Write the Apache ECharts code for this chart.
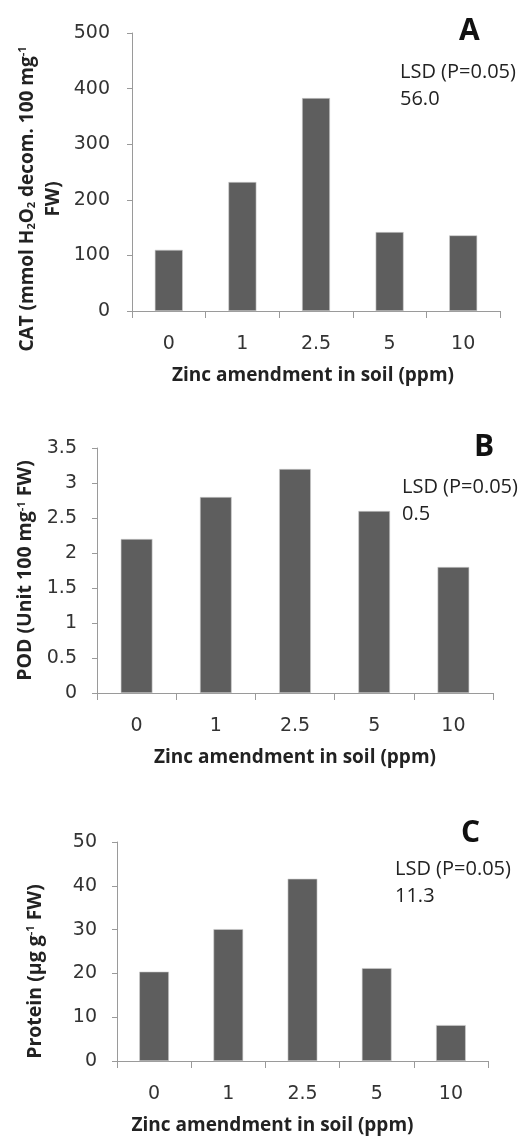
<!DOCTYPE html>
<html>
<head>
<meta charset="utf-8">
<script src="https://cdn.jsdelivr.net/npm/echarts@6/dist/echarts.min.js"></script>
<style>
html,body{margin:0;padding:0;background:#fff;}
#chart{width:530px;height:1137px;}
</style>
</head>
<body>
<div id="chart"></div>
<script>
const categories = ['0', '1', '2.5', '5', '10'];
const catValues = [110, 232, 383, 142, 136];
const podValues = [2.2, 2.8, 3.2, 2.6, 1.8];
const proteinValues = [20.4, 30.1, 41.6, 21.2, 8.2];
const panelLetters = ['A', 'B', 'C'];
const lsdLabel = 'LSD (P=0.05)';
const lsdValues = ['56.0', '0.5', '11.3'];
const xTitle = 'Zinc amendment in soil (ppm)';

const FONT = '"Open Sans", sans-serif';
const TICKFONT = '"DejaVu Sans", sans-serif';
const axisColor = '#9a9a9a';
const barColor = '#5e5e5e';
const textColor = '#222';

function nameRich(size) {
  return {
    b: {fontFamily: FONT, fontWeight: 'bold', fontSize: size, color: textColor, lineHeight: 26},
    sub: {fontFamily: FONT, fontWeight: 'bold', fontSize: 11, color: textColor, verticalAlign: 'bottom', padding: [0, 0, 3, 0]},
    sup: {fontFamily: FONT, fontWeight: 'bold', fontSize: 11, color: textColor, verticalAlign: 'top', padding: [3, 0, 0, 0]}
  };
}

function xAxis(gi, pad) {
  return {
    type: 'category', gridIndex: gi, data: categories,
    axisLine: {lineStyle: {color: axisColor, width: 1}},
    axisTick: {show: true, length: 7, lineStyle: {color: axisColor}},
    axisLabel: {margin: 24, fontFamily: TICKFONT, fontSize: 19, color: '#333'},
    name: xTitle, nameLocation: 'middle', nameGap: 55,
    nameTextStyle: {fontFamily: FONT, fontWeight: 'bold', fontSize: 19, color: textColor, padding: pad}
  };
}
function yAxis(gi, max, interval, name, gap, margin, pad, size) {
  return {
    type: 'value', gridIndex: gi, min: 0, max: max, interval: interval,
    splitLine: {show: false},
    axisLine: {show: true, lineStyle: {color: axisColor, width: 1}},
    axisTick: {show: true, length: 5, lineStyle: {color: axisColor}},
    axisLabel: {margin: margin, fontFamily: TICKFONT, fontSize: 19, color: '#333'},
    name: name, nameLocation: 'middle', nameGap: gap, nameRotate: 90,
    nameTextStyle: {rich: nameRich(size), align: 'center', padding: pad}
  };
}
function bars(gi, data, w) {
  return {
    type: 'bar', xAxisIndex: gi, yAxisIndex: gi, data: data, barWidth: w,
    itemStyle: {color: barColor, borderColor: '#cfcfcf', borderWidth: 0.6},
    silent: true
  };
}

const chart = echarts.init(document.getElementById('chart'), null, {renderer: 'canvas'});
chart.setOption({
  animation: false,
  backgroundColor: '#fff',
  grid: [
    {left: 132, top: 33, width: 368, height: 278},
    {left: 97, top: 448, width: 396, height: 245},
    {left: 117, top: 842, width: 371, height: 219}
  ],
  xAxis: [xAxis(0, [0, 6, 0, 0]), xAxis(1, [0, 0, 0, 0]), xAxis(2, [0, 60, 0, 0])],
  yAxis: [
    yAxis(0, 500, 100, '{b|CAT (mmol H}{sub|2}{b|O}{sub|2}{b| decom. 100 mg}{sup|-1}\n{b|FW)}', 65, 22, [0, 54, 0, 0], 19),
    yAxis(1, 3.5, 0.5, '{b|POD (Unit 100 mg}{sup|-1}{b| FW)}', 57, 20, [0, 0, 0, 0], 19.5),
    yAxis(2, 50, 10, '{b|Protein (µg g}{sup|-1}{b| FW)}', 69, 20, [0, 40, 0, 0], 19.5)
  ],
  series: [bars(0, catValues, '38%'), bars(1, podValues, '40%'), bars(2, proteinValues, '40%')],
  graphic: [
    {type: 'text', left: 459, top: 16, style: {text: panelLetters[0], font: 'bold 30px ' + FONT, fill: '#111'}},
    {type: 'text', left: 400, top: 59, style: {text: lsdLabel + '\n' + lsdValues[0], font: '20px ' + FONT, fill: '#222', lineHeight: 27}},
    {type: 'text', left: 474, top: 432, style: {text: panelLetters[1], font: 'bold 30px ' + FONT, fill: '#111'}},
    {type: 'text', left: 402, top: 474, style: {text: lsdLabel + '\n' + lsdValues[1], font: '20px ' + FONT, fill: '#222', lineHeight: 27}},
    {type: 'text', left: 461, top: 818, style: {text: panelLetters[2], font: 'bold 30px ' + FONT, fill: '#111'}},
    {type: 'text', left: 395, top: 856, style: {text: lsdLabel + '\n' + lsdValues[2], font: '20px ' + FONT, fill: '#222', lineHeight: 27}}
  ]
});
</script>
</body>
</html>
